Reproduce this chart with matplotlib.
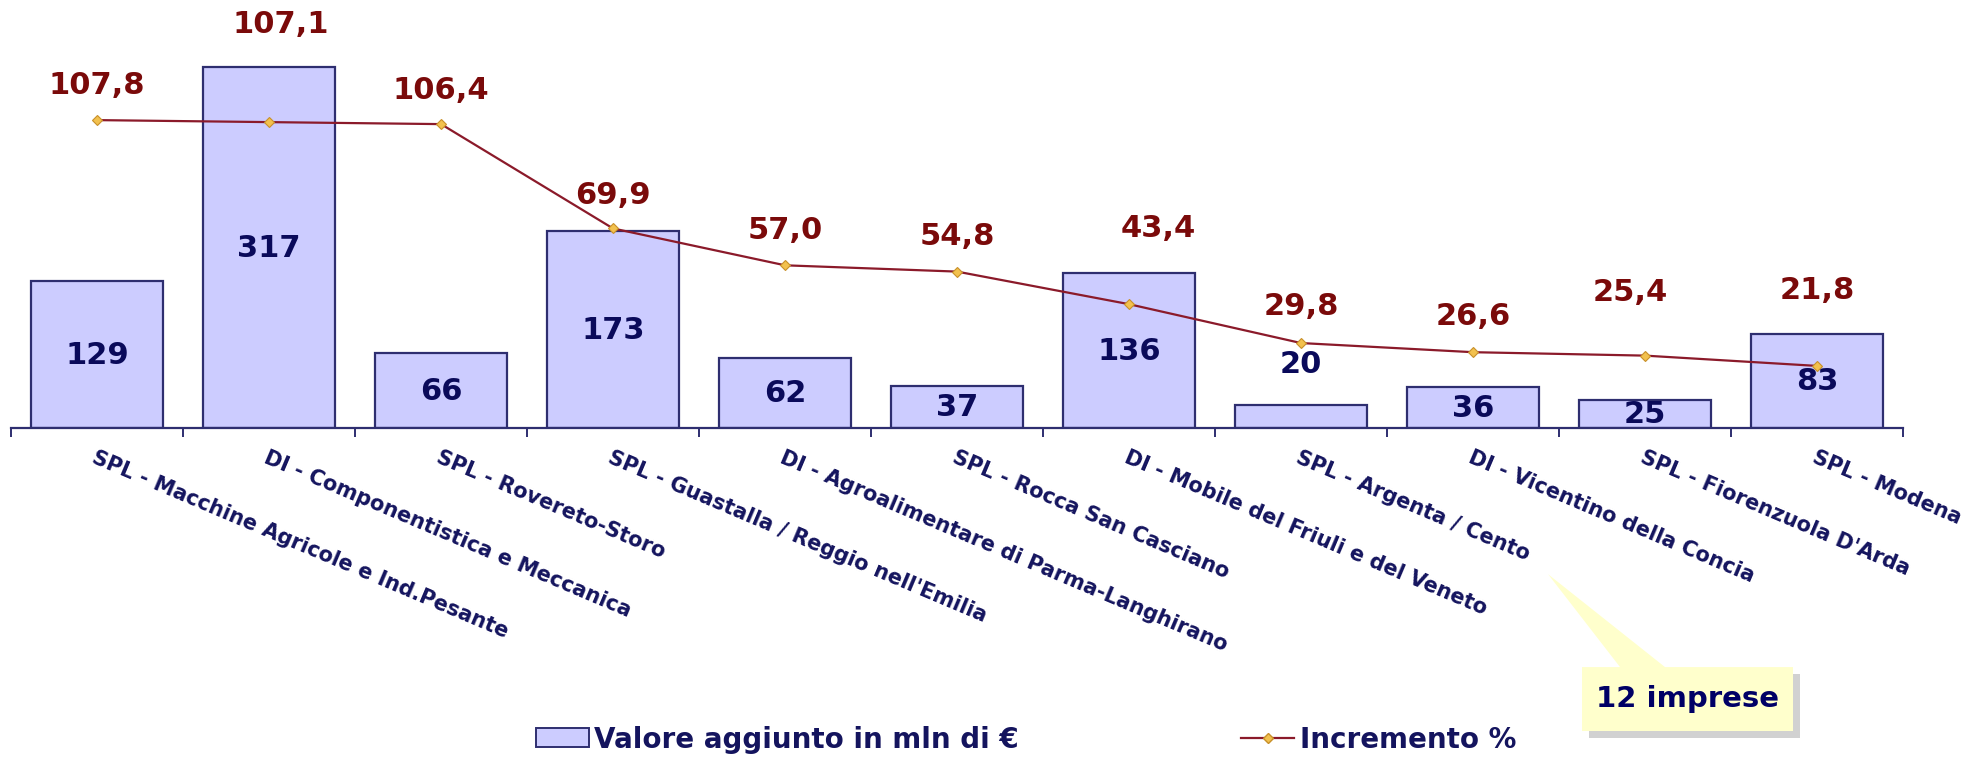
import numpy as np
import matplotlib
matplotlib.use("Agg")
import matplotlib.pyplot as plt
from matplotlib.patches import Patch, Polygon, Rectangle
from matplotlib.lines import Line2D

# data
categories = [
    "SPL - Macchine Agricole e Ind.Pesante",
    "DI - Componentistica e Meccanica",
    "SPL - Rovereto-Storo",
    "SPL - Guastalla / Reggio nell'Emilia",
    "DI - Agroalimentare di Parma-Langhirano",
    "SPL - Rocca San Casciano",
    "DI - Mobile del Friuli e del Veneto",
    "SPL - Argenta / Cento",
    "DI - Vicentino della Concia",
    "SPL - Fiorenzuola D'Arda",
    "SPL - Modena",
]
valore_aggiunto = [129, 317, 66, 173, 62, 37, 136, 20, 36, 25, 83]
incremento = [107.8, 107.1, 106.4, 69.9, 57.0, 54.8, 43.4, 29.8, 26.6, 25.4, 21.8]

# label offsets (pixels) for the % labels, like the manual placement in the original
pct_offsets = [(0, 35), (12, 98), (0, 34), (0, 33), (0, 35), (0, 36),
               (29, 76), (0, 37), (0, 36), (-15, 64), (0, 76)]

BAR_FC = "#CCCCFF"
BAR_EC = "#2E2E70"
NAVY = "#0A0A5A"
MAROON = "#7A0A0A"
LINE_C = "#8B1A2A"
MARK_C = "#F2C14E"

W, H = 1981, 761
fig = plt.figure(figsize=(W / 100, 7.605), dpi=100)
fig.patch.set_facecolor("white")

axis_y = 429
left_px, right_px = 11, 1903
ax = fig.add_axes([left_px / W, (H - axis_y) / H, (right_px - left_px) / W, axis_y / H])
ax2 = ax.twinx()

x = np.arange(len(categories))
ax.bar(x, valore_aggiunto, width=0.77, color=BAR_FC, edgecolor=BAR_EC, linewidth=1.6)
ax.set_xlim(-0.5, len(categories) - 0.5)
ax.set_ylim(0, axis_y / 1.14)
ax2.set_ylim(0, axis_y / 2.86)

ax2.plot(x, incremento, color=LINE_C, linewidth=1.6, marker="D", markersize=5.5,
         markerfacecolor=MARK_C, markeredgecolor="#C8902A", markeredgewidth=0.8)

for a in (ax, ax2):
    for s in ("top", "right", "left"):
        a.spines[s].set_visible(False)
    a.set_yticks([])
ax2.spines["bottom"].set_visible(False)
ax.spines["bottom"].set_color(BAR_EC)
ax.spines["bottom"].set_linewidth(1.6)
ax.set_xticks(np.arange(-0.5, len(categories), 1))
ax.tick_params(axis="x", direction="out", length=6.5, width=1.4, color=BAR_EC, labelbottom=False)

# bar values
for i, v in enumerate(valore_aggiunto):
    if v < 22:
        ax.annotate(str(v), xy=(i, v), xytext=(0, 30), textcoords="offset points",
                    ha="center", va="center", fontsize=22, fontweight="bold", color=NAVY)
    else:
        ax.text(i, v / 2, str(v), ha="center", va="center", fontsize=22,
                fontweight="bold", color=NAVY)

# percent values
for i, v in enumerate(incremento):
    dx, dy = pct_offsets[i]
    ax2.annotate(f"{v:.1f}".replace(".", ","), xy=(i, v), xytext=(dx * 0.72, dy * 0.72),
                 textcoords="offset points", ha="center", va="center", fontsize=22,
                 fontweight="bold", color=MAROON, annotation_clip=False)

# category labels
for i, lab in enumerate(categories):
    ax.annotate(lab, xy=(i, 0), xycoords=("data", "axes fraction"), xytext=(0, -13.5),
                textcoords="offset points", rotation=-23, rotation_mode="anchor",
                ha="left", va="top", fontsize=15, fontweight="bold", color="#14145E")

# legend
handles = [
    Patch(facecolor=BAR_FC, edgecolor=BAR_EC, linewidth=1.4),
    Line2D([0], [0], color=LINE_C, linewidth=1.6, marker="D", markersize=5.5,
           markerfacecolor=MARK_C, markeredgecolor="#C8902A"),
]
leg = fig.legend(handles, ["Valore aggiunto in mln di €", "Incremento %"], ncol=2,
                 loc="center", bbox_to_anchor=(0.518, 0.027), frameon=False,
                 prop={"size": 20, "weight": "bold"}, handlelength=1.9, handleheight=0.7,
                 handletextpad=0.2, columnspacing=8)
for t in leg.get_texts():
    t.set_color("#14145E")

# callout "12 imprese"
def fpt(px, py):
    return (px / W, (H - py) / H)

bx0, by0, bx1, by1 = 1582, 668, 1793, 732
shadow = Rectangle(fpt(bx0 + 7, by1 + 7), (bx1 - bx0) / W, (by1 - by0) / H,
                   transform=fig.transFigure, facecolor="#999999", alpha=0.45,
                   edgecolor="none")
fig.add_artist(shadow)
pts = [fpt(bx0, by0), fpt(1620, by0), fpt(1548, 575), fpt(1665, by0),
       fpt(bx1, by0), fpt(bx1, by1), fpt(bx0, by1)]
fig.add_artist(Polygon(pts, closed=True, transform=fig.transFigure,
                       facecolor="#FFFFCC", edgecolor="none"))
fig.text(1688 / W, (H - 699) / H, "12 imprese", ha="center", va="center",
         fontsize=21, fontweight="bold", color="#000066")

fig.savefig("out.png", dpi=100)
